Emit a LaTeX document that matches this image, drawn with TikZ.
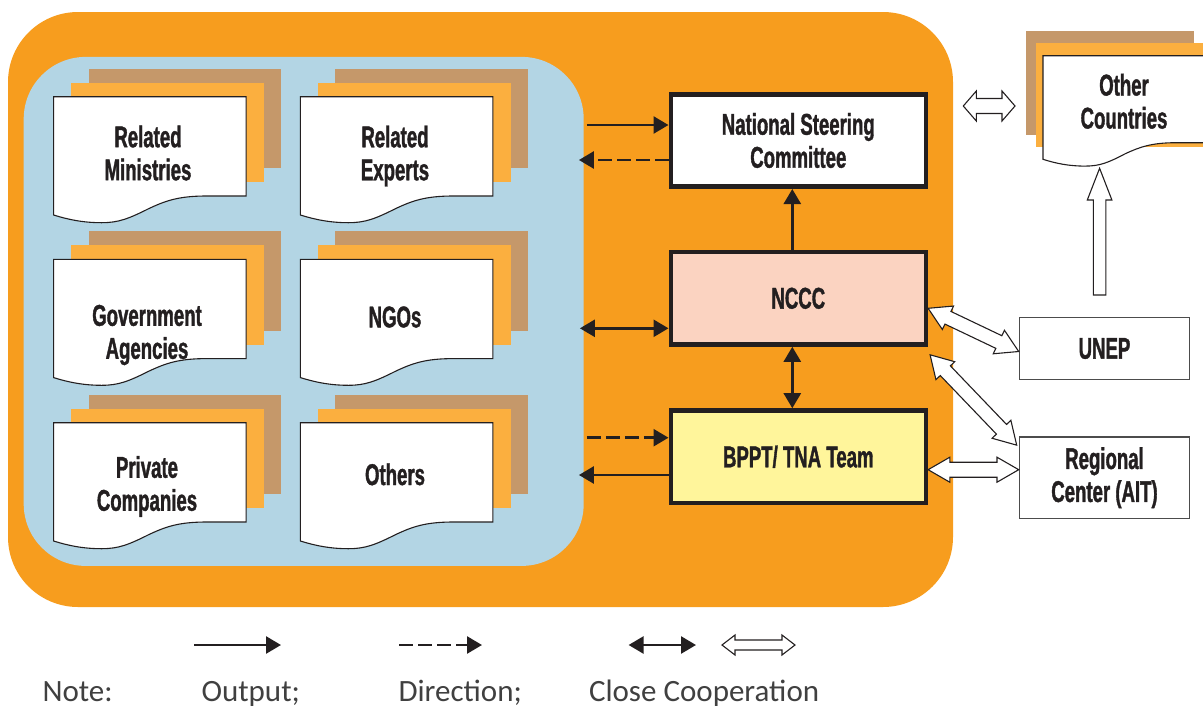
\documentclass[tikz,border=0pt]{standalone}
\usepackage{fontspec}
\usetikzlibrary{arrows.meta,calc}
\newfontfamily\condfont[FakeStretch=0.62,FakeBold=1.2]{Liberation Sans}
\newfontfamily\notefont{Carlito}
\definecolor{outerorange}{RGB}{247,157,30}
\definecolor{panelblue}{RGB}{179,213,228}
\definecolor{layertan}{RGB}{197,152,106}
\definecolor{layerorange}{RGB}{251,175,63}
\definecolor{ncccpink}{RGB}{251,211,193}
\definecolor{bpptyellow}{RGB}{255,245,155}
\definecolor{inkblack}{RGB}{35,31,32}
\definecolor{notegray}{RGB}{64,64,64}
\tikzset{
  docline/.style={draw=inkblack,fill=white,line width=1.1pt},
  docstack/.pic={
    \fill[layertan] (35,-28) rectangle (227.5,71.3);
    \fill[layerorange] (17.6,-14) rectangle (210.1,85.3);
    \filldraw[docline] (0,0) -- (192.5,0) -- (192.5,99.3) -- (153,99.3) .. controls (125,99.3) and (112,104) .. (95,112) .. controls (75,122) and (65,126) .. (48,126) .. controls (30,126) and (15,123) .. (0,118.3) -- cycle;
  },
  doclabel/.style={font=\condfont\bfseries\fontsize{30}{33}\selectfont,text=inkblack,align=center},
  mainbox/.style={draw=inkblack,line width=4.6pt,minimum width=255pt,minimum height=92.4pt,doclabel},
  sidebox/.style={draw=black!70,line width=1.6pt,fill=white,minimum width=170pt,doclabel},
  arr/.style={draw=inkblack,line width=2.6pt},
  dasharr/.style={arr,dash pattern=on 14pt off 5pt},
  hollow/.style={draw=inkblack,line width=1.1pt,fill=white,line join=miter},
  notetext/.style={font=\notefont\fontsize{31}{36}\selectfont,text=notegray,anchor=base west}
}
\newcommand{\hollowdouble}[5]{%
  \path (#1) coordinate (h-a) (#2) coordinate (h-b);
  \path ($(h-a)!#5!(h-b)$) coordinate (h-p) ($(h-b)!#5!(h-a)$) coordinate (h-q);
  \draw[hollow] (h-a) -- ($(h-p)!#4!90:(h-b)$) -- ($(h-p)!#3!90:(h-b)$) -- ($(h-q)!#3!90:(h-b)$) -- ($(h-q)!#4!90:(h-b)$) -- (h-b) -- ($(h-q)!#4!-90:(h-b)$) -- ($(h-q)!#3!-90:(h-b)$) -- ($(h-p)!#3!-90:(h-b)$) -- ($(h-p)!#4!-90:(h-b)$) -- cycle;}
\newcommand{\hollowsingle}[5]{%
  \path (#1) coordinate (h-a) (#2) coordinate (h-b);
  \path ($(h-b)!#5!(h-a)$) coordinate (h-q);
  \draw[hollow] ($(h-a)!#3!90:(h-b)$) -- ($(h-q)!#3!90:(h-b)$) -- ($(h-q)!#4!90:(h-b)$) -- (h-b) -- ($(h-q)!#4!-90:(h-b)$) -- ($(h-q)!#3!-90:(h-b)$) -- ($(h-a)!#3!-90:(h-b)$) -- cycle;}
\begin{document}
\begin{tikzpicture}[x=1pt,y=-1pt,>={Triangle[length=15pt,width=17pt]}]
\clip (0,0) rectangle (1203,710);
\fill[outerorange,rounded corners=70pt] (8,12) rectangle (953,607);
\node[fill=panelblue,rounded corners=62pt,minimum width=560pt,minimum height=509pt] (panel) at (303.7,311.4) {};
\pic at (53.6,96.7) {docstack};
\pic at (300.4,96.7) {docstack};
\pic at (53.6,259.3) {docstack};
\pic at (300.4,259.3) {docstack};
\pic at (53.6,422.7) {docstack};
\pic at (300.4,422.7) {docstack};
\node[doclabel] (rm) at (148,153) {Related\\Ministries};
\node[doclabel] (re) at (395,156) {Related\\Experts};
\node[doclabel] (ga) at (147,335) {Government\\Agencies};
\node[doclabel] (ngo) at (395,317) {NGOs};
\node[doclabel] (pc) at (147,486.5) {Private\\Companies};
\node[doclabel] (oth) at (395,474.3) {Others};
\fill[layertan] (1026,30.7) rectangle (1193.5,135);
\fill[layerorange] (1035.6,42.7) rectangle (1203.1,146.7);
\filldraw[docline] (1043,55.7) -- (1210.5,55.7) -- (1210.5,142.7) -- (1176.2,142.7) .. controls (1151.9,142.7) and (1140.2,146.8) .. (1125.1,153.8) .. controls (1108.3,162.6) and (1100,166.1) .. (1084.9,166.1) .. controls (1069.1,166.1) and (1056.1,163.5) .. (1043,159.3) -- cycle;
\node[doclabel] (oc) at (1124,101.3) {Other\\Countries};
\node[mainbox,fill=white] (nsc) at (798.3,140.5) {National Steering\\Committee};
\node[mainbox,fill=ncccpink] (nccc) at (798.3,298.3) {NCCC};
\node[mainbox,fill=bpptyellow] (bppt) at (798.3,456.7) {BPPT/ TNA Team};
\node[sidebox,minimum height=62pt] (unep) at (1104.5,348.5) {UNEP};
\node[sidebox,minimum height=81.5pt] (reg) at (1104.5,477.7) {Regional\\Center (AIT)};
\coordinate (nsc-a) at ([yshift=15.5pt]nsc.west);
\coordinate (nsc-b) at ([yshift=-19.5pt]nsc.west);
\coordinate (nccc-a) at ([yshift=-30pt]nccc.west);
\coordinate (bppt-a) at ([yshift=19pt]bppt.west);
\coordinate (bppt-b) at ([yshift=-18.3pt]bppt.west);
\draw[arr,->] ($(panel.east |- nsc-a)+(3,0)$) -- (nsc-a);
\draw[dasharr,->] (nsc-b) -- ($(panel.east |- nsc-b)+(-5,0)$);
\draw[arr,<->] ($(panel.east |- nccc-a)+(-4,0)$) -- (nccc-a);
\draw[dasharr,->] ($(panel.east |- bppt-a)+(3,0)$) -- (bppt-a);
\draw[arr,->] (bppt-b) -- ($(panel.east |- bppt-b)+(-5,0)$);
\draw[arr,->] ([xshift=-6pt]nccc.north) -- ([xshift=-6pt]nsc.south);
\draw[arr,<->] ([xshift=-6pt]nccc.south) -- ([xshift=-6pt]bppt.north);
\coordinate (nu-a) at ([yshift=-10pt]nccc.east);
\coordinate (nu-b) at ([yshift=-3pt]unep.west);
\coordinate (nr-a) at ([shift={(2pt,-8pt)}]nccc.south east);
\coordinate (nr-b) at ([shift={(-2pt,-9pt)}]reg.north west);
\coordinate (br-a) at ([yshift=-13pt]bppt.east);
\coordinate (br-b) at (reg.west |- br-a);
\coordinate (tr-a) at (963.3,106);
\coordinate (tr-b) at (1015,106);
\coordinate (up-tail) at (1099.6,295);
\coordinate (up-tip) at (1099.6,168.3);
\hollowdouble{nu-a}{nu-b}{7pt}{13pt}{22pt}
\hollowdouble{nr-a}{nr-b}{7pt}{13pt}{22pt}
\hollowdouble{br-a}{br-b}{7.5pt}{12.5pt}{21.7pt}
\hollowdouble{tr-a}{tr-b}{7.5pt}{15pt}{13pt}
\hollowsingle{up-tail}{up-tip}{6.2pt}{12.3pt}{31.7pt}
\coordinate (k1a) at (194,645);
\coordinate (k1b) at (281,645);
\coordinate (k2a) at (399,645);
\coordinate (k2b) at (482,645);
\coordinate (k3a) at (628.6,645);
\coordinate (k3b) at (696,645);
\coordinate (k4a) at (722,645);
\coordinate (k4b) at (795,645);
\draw[arr,->] (k1a) -- (k1b);
\draw[dasharr,->] (k2a) -- (k2b);
\draw[arr,<->] (k3a) -- (k3b);
\hollowdouble{k4a}{k4b}{5pt}{10pt}{13pt}
\node[notetext] (note) at (39,701) {Note:};
\node[notetext] (out) at (198,701) {Output;};
\node[notetext] (dir) at (395,701) {Direction;};
\node[notetext] (coop) at (585.5,701) {Close Cooperation};
\end{tikzpicture}
\end{document}
